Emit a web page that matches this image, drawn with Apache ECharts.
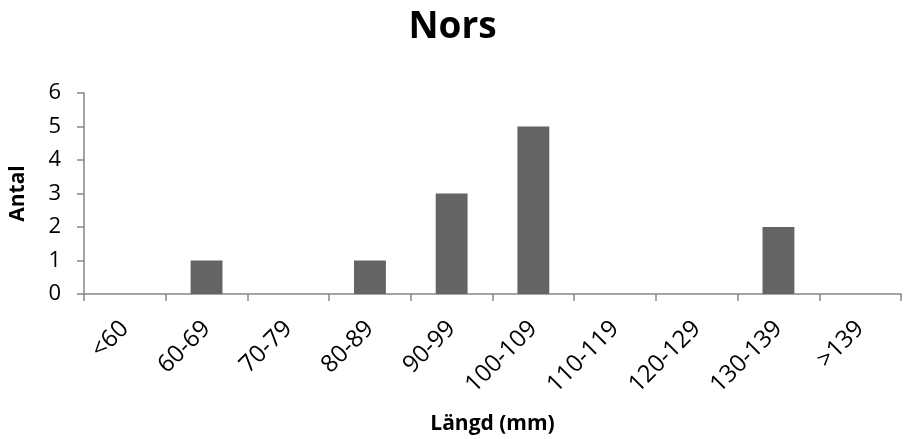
<!DOCTYPE html>
<html>
<head>
<meta charset="utf-8">
<script src="https://cdn.jsdelivr.net/npm/echarts@6/dist/echarts.min.js"></script>
<style>
  html, body { margin: 0; padding: 0; background: #fff; }
  #chart { width: 905px; height: 439px; }
</style>
</head>
<body>
<div id="chart"></div>
<script>
// Length classes (mm) and number of fish per class
const categories = ['<60', '60-69', '70-79', '80-89', '90-99', '100-109', '110-119', '120-129', '130-139', '>139'];
const counts = [0, 1, 0, 1, 3, 5, 0, 0, 2, 0];
const yTicks = { min: 0, max: 6, interval: 1 };

const FONT = '"Open Sans", "Noto Sans", sans-serif';
const AXIS_GRAY = '#868686';

const chart = echarts.init(document.getElementById('chart'), null, { renderer: 'canvas' });
chart.setOption({
  animation: false,
  backgroundColor: '#ffffff',
  title: {
    text: 'Nors',
    left: 'center',
    top: 4,
    textStyle: { fontFamily: FONT, fontSize: 37, fontWeight: 'bold', color: '#000' }
  },
  grid: { left: 83, right: 4, top: 93, bottom: 145, containLabel: false },
  xAxis: {
    type: 'category',
    data: categories,
    name: 'Längd (mm)',
    nameLocation: 'middle',
    nameGap: 120,
    nameTextStyle: { fontFamily: FONT, fontSize: 21, fontWeight: 'bold', color: '#000' },
    axisLine: { lineStyle: { color: AXIS_GRAY, width: 1.5 } },
    axisTick: { show: true, alignWithLabel: false, length: 7, lineStyle: { color: AXIS_GRAY, width: 1.5 } },
    axisLabel: { rotate: 45, margin: 31, fontFamily: FONT, fontSize: 24, color: '#000', interval: 0 }
  },
  yAxis: {
    type: 'value',
    min: yTicks.min,
    max: yTicks.max,
    interval: yTicks.interval,
    name: 'Antal',
    nameLocation: 'middle',
    nameGap: 55,
    nameRotate: 90,
    nameTextStyle: { fontFamily: FONT, fontSize: 21, fontWeight: 'bold', color: '#000' },
    splitLine: { show: false },
    axisLine: { show: true, lineStyle: { color: AXIS_GRAY, width: 1.5 } },
    axisTick: { show: true, length: 7, lineStyle: { color: AXIS_GRAY, width: 1.5 } },
    axisLabel: { margin: 23, fontFamily: FONT, fontSize: 22, color: '#000' }
  },
  series: [{
    type: 'bar',
    data: counts,
    barWidth: '39%',
    itemStyle: { color: '#646464', borderWidth: 0 }
  }]
});
</script>
</body>
</html>
